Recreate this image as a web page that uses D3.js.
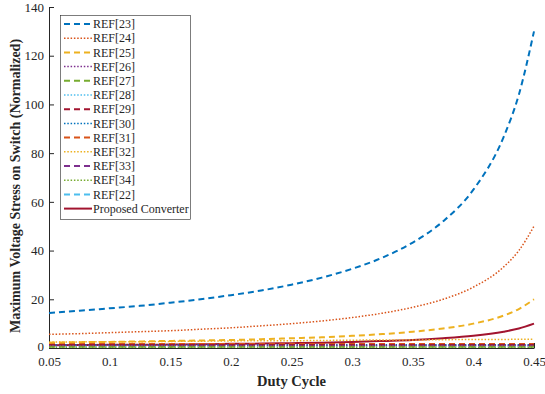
<!DOCTYPE html>
<html>
<head>
<meta charset="utf-8">
<script src="https://cdn.jsdelivr.net/npm/d3@7"></script>
<style>
  body { margin: 0; background: #fff; }
  svg { display: block; font-family: "Liberation Serif", "Times New Roman", serif; }
</style>
</head>
<body>
<svg id="chart" width="545" height="394"></svg>
<script>
// duty cycle samples
const duty = [0.05, 0.075, 0.1, 0.125, 0.15, 0.175, 0.2, 0.225, 0.25, 0.275, 0.3, 0.325, 0.35, 0.375, 0.4, 0.425, 0.4375, 0.45];

const ref23 = [14.4, 15.3, 16.3, 17.3, 18.6, 20, 21.7, 23.6, 26, 28.9, 32.5, 37.1, 43.3, 52, 65, 86.7, 104, 130];
const ref24 = [5.6, 5.9, 6.3, 6.7, 7.1, 7.7, 8.3, 9.1, 10, 11.1, 12.5, 14.3, 16.7, 20, 25, 33.3, 40, 50];
const ref25 = [2.2, 2.4, 2.5, 2.7, 2.9, 3.1, 3.3, 3.6, 4, 4.4, 5, 5.7, 6.7, 8, 10, 13.3, 16, 20];
const ref26 = [1.0, 1.0, 1.0, 1.0, 1.0, 1.0, 1.0, 1.0, 1.0, 1.0, 1.0, 1.0, 1.0, 1.0, 1.0, 1.0, 1.0, 1.0];
const ref27 = [0.5, 0.5, 0.5, 0.5, 0.5, 0.5, 0.5, 0.5, 0.5, 0.5, 0.5, 0.5, 0.5, 0.5, 0.5, 0.5, 0.5, 0.5];
const ref28 = [0.8, 0.8, 0.8, 0.8, 0.8, 0.8, 0.8, 0.8, 0.8, 0.8, 0.8, 0.8, 0.8, 0.8, 0.8, 0.8, 0.8, 0.8];
const ref29 = [1.2, 1.2, 1.2, 1.2, 1.2, 1.2, 1.2, 1.2, 1.2, 1.2, 1.2, 1.2, 1.2, 1.2, 1.2, 1.2, 1.2, 1.2];
const ref30 = [1.3, 1.3, 1.3, 1.3, 1.3, 1.3, 1.3, 1.3, 1.3, 1.3, 1.3, 1.3, 1.3, 1.3, 1.3, 1.3, 1.3, 1.3];
const ref31 = [1.6, 1.6, 1.6, 1.6, 1.6, 1.6, 1.6, 1.6, 1.6, 1.6, 1.6, 1.6, 1.6, 1.6, 1.6, 1.6, 1.6, 1.6];
const ref32 = [2.4, 2.5, 2.6, 2.6, 2.7, 2.8, 2.9, 3.0, 3.0, 3.1, 3.2, 3.3, 3.3, 3.4, 3.5, 3.5, 3.6, 3.6];
const ref33 = [1.0, 1.0, 1.0, 1.0, 1.0, 1.0, 1.0, 1.0, 1.0, 1.0, 1.0, 1.0, 1.0, 1.0, 1.0, 1.0, 1.0, 1.0];
const ref34 = [0.3, 0.3, 0.3, 0.3, 0.3, 0.3, 0.3, 0.3, 0.3, 0.3, 0.3, 0.3, 0.3, 0.3, 0.3, 0.3, 0.3, 0.3];
const ref22 = [0.7, 0.7, 0.7, 0.7, 0.7, 0.7, 0.7, 0.7, 0.7, 0.7, 0.7, 0.7, 0.7, 0.7, 0.7, 0.7, 0.7, 0.7];
const proposed = [1.1, 1.2, 1.3, 1.3, 1.4, 1.5, 1.7, 1.8, 2, 2.2, 2.5, 2.9, 3.3, 4, 5, 6.7, 8, 10];

const xTicks = [0.05, 0.1, 0.15, 0.2, 0.25, 0.3, 0.35, 0.4, 0.45];
const yTicks = [0, 20, 40, 60, 80, 100, 120, 140];

const DASH = "6,4";
const DOT = "1.5,1.8";

// series in legend order
const series = [
  { name: "REF[23]", values: ref23, color: "#0072BD", dash: DASH, width: 2 },
  { name: "REF[24]", values: ref24, color: "#D95319", dash: DOT, width: 1.5 },
  { name: "REF[25]", values: ref25, color: "#EDB120", dash: DASH, width: 2 },
  { name: "REF[26]", values: ref26, color: "#7E2F8E", dash: DOT, width: 1.5 },
  { name: "REF[27]", values: ref27, color: "#77AC30", dash: DASH, width: 2 },
  { name: "REF[28]", values: ref28, color: "#4DBEEE", dash: DOT, width: 1.5 },
  { name: "REF[29]", values: ref29, color: "#A2142F", dash: DASH, width: 2 },
  { name: "REF[30]", values: ref30, color: "#0072BD", dash: DOT, width: 1.5 },
  { name: "REF[31]", values: ref31, color: "#D95319", dash: DASH, width: 2 },
  { name: "REF[32]", values: ref32, color: "#EDB120", dash: DOT, width: 1.5 },
  { name: "REF[33]", values: ref33, color: "#7E2F8E", dash: DASH, width: 2 },
  { name: "REF[34]", values: ref34, color: "#77AC30", dash: DOT, width: 1.5 },
  { name: "REF[22]", values: ref22, color: "#4DBEEE", dash: DASH, width: 2 },
  { name: "Proposed Converter", values: proposed, color: "#A2142F", dash: null, width: 2 },
];

const svg = d3.select("#chart");
const mLeft = 49, mRight = 534, mTop = 7, mBottom = 348;

const x = d3.scaleLinear().domain([0.05, 0.45]).range([mLeft, mRight]);
const y = d3.scaleLinear().domain([0, 140]).range([mBottom, mTop]);

const axisColor = "#262626";

// axes (ticks pointing inward, MATLAB style)
const xAxis = svg.append("g")
  .attr("transform", `translate(0,${mBottom})`)
  .call(d3.axisBottom(x).tickValues(xTicks).tickFormat(d3.format("")).tickSizeInner(-5).tickSizeOuter(0).tickPadding(9));

const yAxis = svg.append("g")
  .attr("transform", `translate(${mLeft},0)`)
  .call(d3.axisLeft(y).tickValues(yTicks).tickSizeInner(-5).tickSizeOuter(0).tickPadding(5));

[xAxis, yAxis].forEach((g) => {
  g.select(".domain").attr("stroke", axisColor).attr("stroke-width", 1);
  g.selectAll(".tick line").attr("stroke", axisColor);
  g.selectAll("text")
    .attr("fill", axisColor)
    .style("font-family", "'Liberation Serif', serif")
    .style("font-size", "13px");
});
// keep the "0" label clear of "0.05"
yAxis.selectAll(".tick text").attr("dy", (d) => (d === 0 ? "0.2em" : "0.32em"));

// lines
const line = d3.line()
  .x((d, i) => x(duty[i]))
  .y((d) => y(d))
  .curve(d3.curveMonotoneX);

const plot = svg.append("g");
series.slice().reverse().forEach((s) => {
  plot.append("path")
    .datum(s.values)
    .attr("d", line)
    .attr("fill", "none")
    .attr("stroke", s.color)
    .attr("stroke-width", s.width)
    .attr("stroke-dasharray", s.dash);
});

// axis titles
svg.append("text")
  .attr("x", (mLeft + mRight) / 2)
  .attr("y", 386)
  .attr("text-anchor", "middle")
  .attr("fill", axisColor)
  .style("font-size", "14.5px")
  .style("font-weight", "bold")
  .text("Duty Cycle");

svg.append("text")
  .attr("transform", `translate(20,186) rotate(-90)`)
  .attr("text-anchor", "middle")
  .attr("fill", axisColor)
  .style("font-size", "14px")
  .style("font-weight", "bold")
  .text("Maximum Voltage Stress on Switch (Normalized)");

// legend
const lgX = 60, lgY = 15, lgW = 130, rowH = 14.2;
const legend = svg.append("g");
legend.append("rect")
  .attr("x", lgX + 0.5)
  .attr("y", lgY + 0.5)
  .attr("width", lgW)
  .attr("height", rowH * series.length + 5)
  .attr("fill", "#fff")
  .attr("stroke", axisColor)
  .attr("stroke-width", 0.6);

series.forEach((s, i) => {
  const cy = lgY + 9 + i * rowH;
  legend.append("line")
    .attr("x1", lgX + 4)
    .attr("x2", lgX + 32)
    .attr("y1", cy)
    .attr("y2", cy)
    .attr("stroke", s.color)
    .attr("stroke-width", s.width)
    .attr("stroke-dasharray", s.dash);
  legend.append("text")
    .attr("x", lgX + 33)
    .attr("y", cy)
    .attr("dy", "0.35em")
    .attr("fill", axisColor)
    .style("font-size", "12px")
    .text(s.name);
});
</script>
</body>
</html>
